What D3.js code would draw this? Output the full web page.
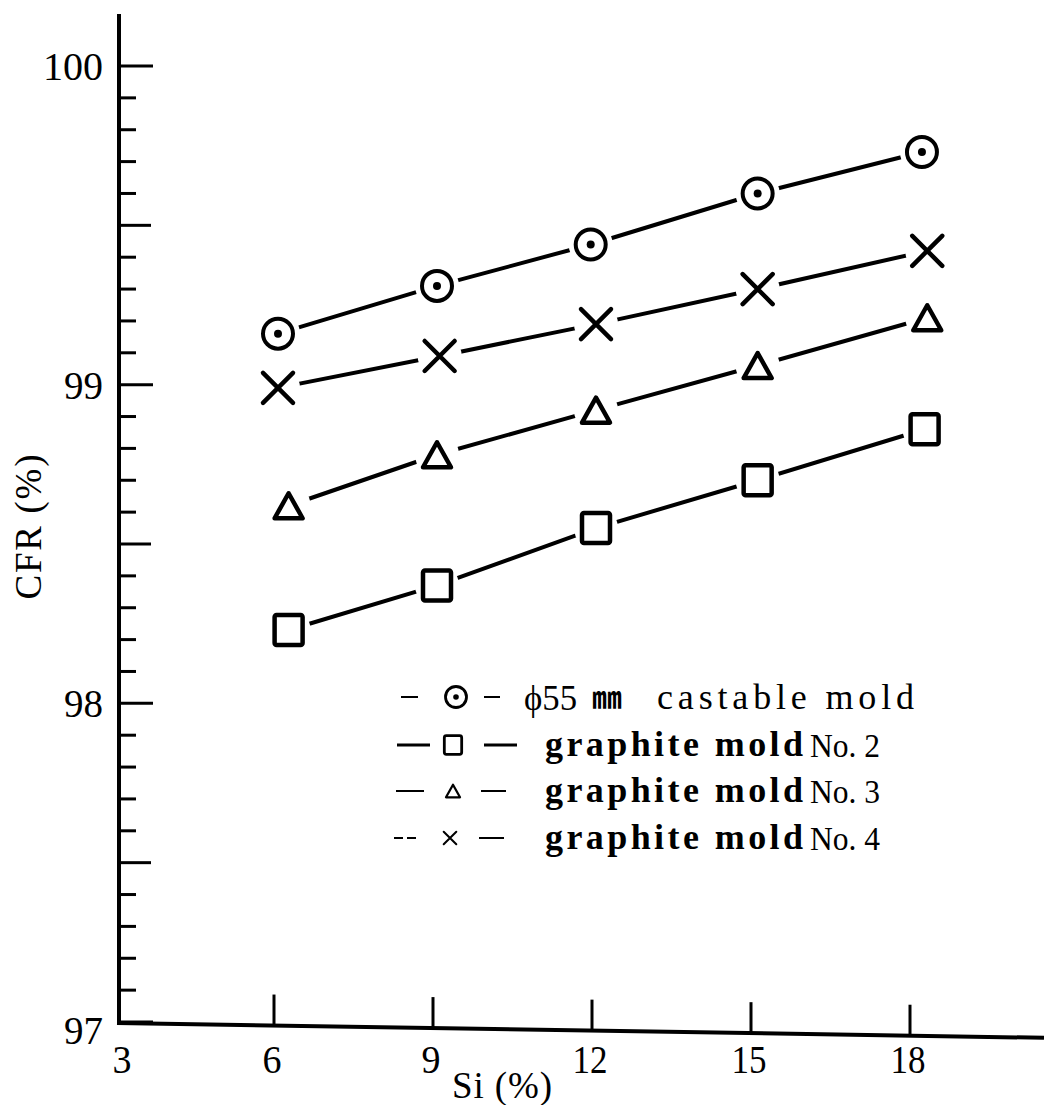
<!DOCTYPE html>
<html lang="en">
<head>
<meta charset="UTF-8">
<title>CFR vs Si</title>
<script src="https://cdn.jsdelivr.net/npm/d3@7"></script>
<style>
  body { margin: 0; background: #fff; }
  text { font-family: "Liberation Serif", "DejaVu Serif", serif; fill: #000; }
</style>
</head>
<body>
<svg width="1044" height="1105"></svg>
<script>
// data
var xTicks = [3, 6, 9, 12, 15, 18];
var yTicks = [97, 98, 99, 100];

var siCastable = [6.0, 9.0, 11.9, 15.05, 18.15];
var cfrCastable = [99.16, 99.31, 99.44, 99.60, 99.73];

var siNo4 = [6.0, 9.05, 12.0, 15.05, 18.25];
var cfrNo4 = [98.99, 99.09, 99.19, 99.30, 99.42];

var siNo3 = [6.2, 9.0, 12.0, 15.05, 18.25];
var cfrNo3 = [98.62, 98.78, 98.92, 99.06, 99.21];

var siNo2 = [6.2, 9.0, 12.0, 15.05, 18.2];
var cfrNo2 = [98.23, 98.37, 98.55, 98.70, 98.86];

var legendLabels = ["castable mold", "graphite mold", "graphite mold", "graphite mold"];

var svg = d3.select("svg");

var x = d3.scaleLinear().domain([3, 18]).range([119, 914]);
var y = d3.scaleLinear().domain([97, 100]).range([1022, 66]);

// y axis: long ticks on integers and halves, short ones every 0.1
var yAxisG = svg.append("g");
yAxisG.append("line")
    .attr("x1", x(3)).attr("x2", x(3))
    .attr("y1", 14).attr("y2", y(97) + 2)
    .attr("stroke", "#000").attr("stroke-width", 4);
var minor = d3.range(970, 1001).map(function(d){ return d / 10; });
yAxisG.selectAll("line.tk")
    .data(minor)
    .enter().append("line")
    .attr("class", "tk")
    .attr("x1", x(3))
    .attr("x2", function(d){
        var k = Math.round(d * 10);
        return x(3) + (k % 10 === 0 ? 34 : (k % 5 === 0 ? 32 : 17));
    })
    .attr("y1", function(d){ return y(d); })
    .attr("y2", function(d){ return y(d); })
    .attr("stroke", "#000").attr("stroke-width", 3);

yAxisG.selectAll("text")
    .data(yTicks)
    .enter().append("text")
    .attr("x", 103)
    .attr("y", function(d){ return y(d) + (d === 97 ? 22 : 14); })
    .attr("text-anchor", "end")
    .attr("font-size", 41)
    .attr("textLength", function(d){ return d === 100 ? 60 : 39; })
    .attr("lengthAdjust", "spacingAndGlyphs")
    .text(function(d){ return d; });

// x axis (the scan is a little skewed, so the base line drops to the right)
var xAxisG = svg.append("g");
var baseY = function(px){ return y(97) + 1 + (px - x(3)) * 0.016; };
xAxisG.append("line")
    .attr("x1", x(3) - 2).attr("x2", 1044)
    .attr("y1", baseY(x(3) - 2)).attr("y2", baseY(1044))
    .attr("stroke", "#000").attr("stroke-width", 4);
xAxisG.selectAll("line.tk")
    .data(xTicks.slice(1))
    .enter().append("line")
    .attr("class", "tk")
    .attr("x1", function(d){ return x(d) - 4; })
    .attr("x2", function(d){ return x(d) - 4; })
    .attr("y1", function(d){ return baseY(x(d)); })
    .attr("y2", function(d){ return baseY(x(d)) - 31; })
    .attr("stroke", "#000").attr("stroke-width", 3);
xAxisG.selectAll("text")
    .data(xTicks)
    .enter().append("text")
    .attr("x", function(d){ return d === 3 ? x(d) + 3 : x(d) - 6; })
    .attr("y", 1073)
    .attr("text-anchor", "middle")
    .attr("font-size", 41)
    .attr("textLength", function(d){ return d >= 10 ? 35 : 19; })
    .attr("lengthAdjust", "spacingAndGlyphs")
    .text(function(d){ return d; });

// axis titles
svg.append("text")
    .attr("transform", "translate(41,527) rotate(-90)")
    .attr("text-anchor", "middle")
    .attr("font-size", 37)
    .attr("textLength", 145)
    .attr("lengthAdjust", "spacing")
    .text("CFR (%)");
svg.append("text")
    .attr("x", 452).attr("y", 1098)
    .attr("font-size", 37)
    .attr("textLength", 100)
    .attr("lengthAdjust", "spacing")
    .text("Si (%)");

// series
var series = [
    { xs: siCastable, ys: cfrCastable, sym: "circle" },
    { xs: siNo4, ys: cfrNo4, sym: "cross" },
    { xs: siNo3, ys: cfrNo3, sym: "triangle" },
    { xs: siNo2, ys: cfrNo2, sym: "square" }
];

var line = d3.line()
    .x(function(d){ return x(d[0]); })
    .y(function(d){ return y(d[1]); });

function drawMarker(g, sym, s) {
    // s = scale factor, 1 for plot, smaller for legend
    if (sym === "circle") {
        g.append("circle").attr("r", 15 * s).attr("fill", "#fff")
            .attr("stroke", "#000").attr("stroke-width", 4 * Math.max(s, 0.7));
        g.append("circle").attr("r", 4 * s).attr("fill", "#000");
    } else if (sym === "square") {
        g.append("rect").attr("x", -14 * s).attr("y", -15 * s)
            .attr("width", 28 * s).attr("height", 30 * s).attr("rx", 2)
            .attr("fill", "#fff").attr("stroke", "#000")
            .attr("stroke-width", 4.5 * Math.max(s, 0.5));
    } else if (sym === "triangle") {
        var h = 25 * s, w = 14 * s;
        g.append("path")
            .attr("d", "M0," + (-h / 2) + "L" + w + "," + (h / 2) + "L" + (-w) + "," + (h / 2) + "Z")
            .attr("fill", "#fff").attr("stroke", "#000")
            .attr("stroke-width", 4.5 * Math.max(s, 0.45)).attr("stroke-linejoin", "round");
    } else if (sym === "cross") {
        var r = 15 * s;
        g.append("path")
            .attr("d", "M" + (-r) + "," + (-r) + "L" + r + "," + r + "M" + r + "," + (-r) + "L" + (-r) + "," + r)
            .attr("stroke", "#000").attr("stroke-width", 4.5 * Math.max(s, 0.45))
            .attr("stroke-linecap", "round");
    }
}

series.forEach(function(s) {
    var pts = d3.zip(s.xs, s.ys);
    svg.append("path")
        .datum(pts)
        .attr("d", line)
        .attr("fill", "none")
        .attr("stroke", "#000")
        .attr("stroke-width", 4);
    var g = svg.append("g").selectAll("g")
        .data(pts)
        .enter().append("g")
        .attr("transform", function(d){ return "translate(" + x(d[0]) + "," + y(d[1]) + ")"; });
    g.each(function() {
        var m = d3.select(this);
        // white halo so the line stops short of the marker
        m.append("circle").attr("r", 22).attr("fill", "#fff");
        drawMarker(m, s.sym, 1);
    });
});

// legend
var legendRows = [
    { sym: "circle", yc: 697, dashL: [[401, 418]], dashR: [[484, 500]], mx: 456 },
    { sym: "square", yc: 745, dashL: [[397, 430]], dashR: [[484, 517]], mx: 453 },
    { sym: "triangle", yc: 791, dashL: [[396, 424]], dashR: [[481, 506]], mx: 453 },
    { sym: "cross", yc: 838, dashL: [[394, 403], [407, 416]], dashR: [[479, 504]], mx: 450 }
];
var legendScale = { circle: 0.7, square: 0.62, triangle: 0.5, cross: 0.42 };

var lg = svg.append("g");
legendRows.forEach(function(r, i) {
    r.dashL.concat(r.dashR).forEach(function(seg) {
        lg.append("line")
            .attr("x1", seg[0]).attr("x2", seg[1])
            .attr("y1", r.yc).attr("y2", r.yc)
            .attr("stroke", "#000").attr("stroke-width", i === 1 ? 3 : 2);
    });
    var m = lg.append("g").attr("transform", "translate(" + r.mx + "," + r.yc + ")");
    drawMarker(m, r.sym, legendScale[r.sym]);
});

// first legend row text
lg.append("text")
    .attr("x", 524).attr("y", 710)
    .attr("font-size", 36)
    .attr("textLength", 53)
    .attr("lengthAdjust", "spacingAndGlyphs")
    .text("ϕ55");
lg.append("text")
    .attr("x", 592).attr("y", 708)
    .attr("font-size", 30)
    .attr("font-weight", "bold")
    .style("font-family", "'Noto Sans CJK SC'")
    .text("㎜");
lg.append("text")
    .attr("x", 657).attr("y", 709)
    .attr("font-size", 36)
    .attr("textLength", 257)
    .attr("lengthAdjust", "spacing")
    .text(legendLabels[0]);

[745, 791, 838].forEach(function(yc, i) {
    lg.append("text")
        .attr("x", 545).attr("y", yc + 11)
        .attr("font-size", 36)
        .attr("font-weight", "bold")
        .attr("textLength", 258)
        .attr("lengthAdjust", "spacing")
        .text(legendLabels[i + 1]);
    lg.append("text")
        .attr("x", 810).attr("y", yc + 12)
        .attr("font-size", 34)
        .attr("textLength", 70)
        .attr("lengthAdjust", "spacingAndGlyphs")
        .text("No. " + (i + 2));
});
</script>
</body>
</html>
